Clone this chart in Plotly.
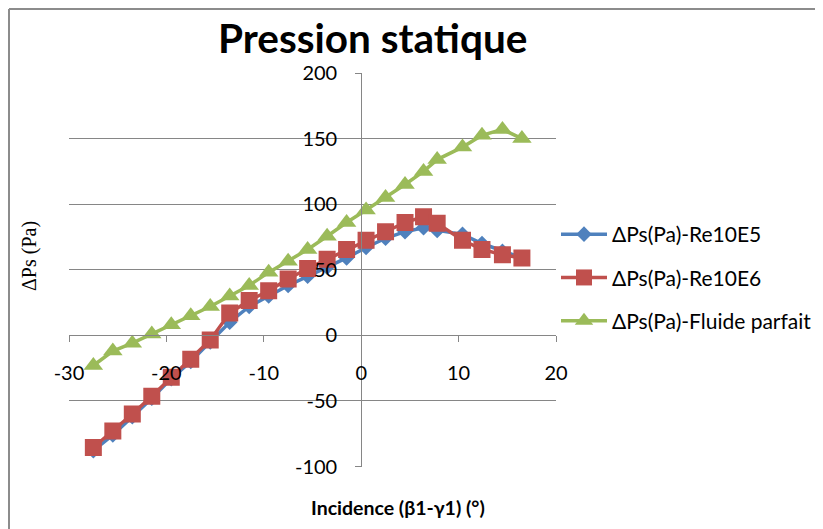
import plotly.graph_objects as go

# Incidence (deg)
incidence = [-27.5, -25.5, -23.5, -21.5, -19.5, -17.5, -15.5, -13.5, -11.5, -9.5,
             -7.5, -5.5, -3.5, -1.5, 0.5, 2.5, 4.5, 6.4, 7.8, 10.4, 12.4, 14.5, 16.5]

dps_re10e5 = [-88, -76, -62, -48, -33, -20, -5, 10, 22, 30,
              38, 45, 52, 59, 67, 74, 79, 82, 80, 77, 70, 64, 59]

dps_re10e6 = [-85.5, -73, -60, -46.5, -32, -18.3, -3.5, 17, 26.5, 34,
              43, 51, 58, 65.5, 72.5, 79, 86, 90.5, 85.5, 72.5, 65.5, 61.5, 59]

dps_parfait = [-23, -12, -6, 1, 8, 15, 22, 30, 38, 48,
               56.5, 65.5, 75.5, 86, 95.5, 105, 115, 125, 134, 143.5, 152.5, 157, 150]

names = ["ΔPs(Pa)-Re10E5", "ΔPs(Pa)-Re10E6", "ΔPs(Pa)-Fluide parfait"]
x_ticks = [-30, -20, -10, 0, 10, 20]
x_ticktext = ["-30", "-20", "-10", "0", "10", "20"]
y_ticks = [-100, -50, 0, 50, 100, 150, 200]
y_ticktext = ["-100", "-50", "0", "50", "100", "150", "200"]

W, H = 823, 529
OFF = 8  # page body margin
FONT = "Lato"
GRID = "#868686"


def px(x):
    return (x - OFF) / W


def py(y):
    return 1 - (y - OFF) / H


fig = go.Figure()
fig.add_trace(go.Scatter(x=incidence, y=dps_re10e5, name=names[0], mode="lines+markers",
                         line=dict(color="#4F81BD", width=3.5),
                         marker=dict(symbol="diamond", size=12, color="#4F81BD"),
                         legendgroup="a"))
fig.add_trace(go.Scatter(x=incidence, y=dps_re10e6, name=names[1], mode="lines+markers",
                         line=dict(color="#C0504D", width=3.5),
                         marker=dict(symbol="square", size=17, color="#C0504D"),
                         legendgroup="b"))
fig.add_trace(go.Scatter(x=incidence, y=dps_parfait, name=names[2], mode="lines+markers",
                         line=dict(color="#9BBB59", width=3.5),
                         marker=dict(symbol="triangle-up", size=17, color="#9BBB59"),
                         legendgroup="c"))

# plot area in reference pixels: x 69..556, y 73..466.5
xd = [px(69), px(556)]
yd = [py(466.5), py(73)]
x_axis_pos = yd[0] + (0 - (-100)) / 300 * (yd[1] - yd[0])
y_axis_pos = xd[0] + (0 - (-30)) / 50 * (xd[1] - xd[0])

fig.update_layout(
    width=W, height=H,
    margin=dict(l=0, r=0, t=0, b=0, autoexpand=False),
    paper_bgcolor="white", plot_bgcolor="white",
    font=dict(family=FONT, size=20, color="black"),
    showlegend=True,
    xaxis=dict(domain=xd, range=[-30, 20], tickvals=x_ticks, ticktext=x_ticktext,
               anchor="free", position=x_axis_pos,
               showgrid=False, zeroline=False, showline=True, linecolor=GRID, linewidth=1,
               ticks="outside", ticklen=6, tickcolor=GRID, ticklabelstandoff=14,
               tickfont=dict(size=20)),
    yaxis=dict(domain=yd, range=[-100, 200], tickvals=y_ticks, ticktext=y_ticktext,
               anchor="free", position=y_axis_pos,
               showgrid=True, gridcolor=GRID, gridwidth=1, zeroline=False,
               showline=True, linecolor=GRID, linewidth=1,
               ticks="outside", ticklen=6, tickcolor=GRID, ticklabelstandoff=14,
               tickfont=dict(size=20)),
    legend=dict(x=px(556), y=py(214), xanchor="left", yanchor="top",
                font=dict(size=21), itemwidth=46, tracegroupgap=13,
                traceorder="grouped", bgcolor="rgba(0,0,0,0)"),
    annotations=[
        dict(text="<b>Pression statique</b>", x=px(372), y=py(38), xref="paper", yref="paper",
             xanchor="center", yanchor="middle",
             showarrow=False, font=dict(size=40.5, family=FONT)),
        dict(text="<b>Incidence (β1-γ1) (°)</b>", x=px(398), y=py(507), xref="paper", yref="paper",
             xanchor="center", yanchor="middle",
             showarrow=False, font=dict(size=19.5, family=FONT)),
        dict(text="ΔPs (Pa)", x=px(29), y=py(256), xref="paper", yref="paper", textangle=-90,
             xanchor="center", yanchor="middle",
             showarrow=False, font=dict(size=20, family="Liberation Serif, DejaVu Serif, serif")),
    ],
    shapes=[
        dict(type="line", xref="paper", yref="paper", x0=px(9), x1=1.05, y0=py(9), y1=py(9),
             line=dict(color="#8c8c8c", width=2)),
        dict(type="line", xref="paper", yref="paper", x0=px(9), x1=px(9), y0=-0.05, y1=py(9),
             line=dict(color="#8c8c8c", width=2)),
    ],
)

fig.write_html("out.html")
